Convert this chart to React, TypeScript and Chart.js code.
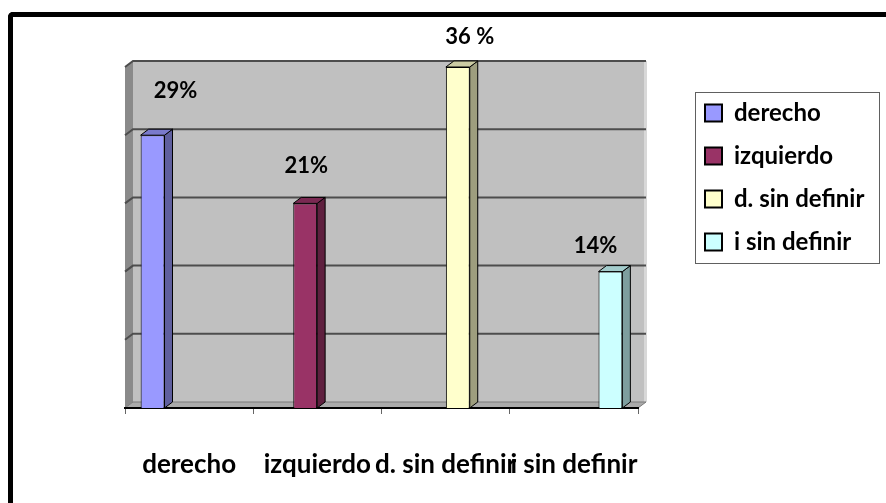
import React, { useEffect, useRef } from 'react';
import { Chart, registerables } from 'chart.js';

Chart.register(...registerables);

// ---- data ----
const categories = ['derecho', 'izquierdo', 'd. sin definir', 'i sin definir'];
const seriesNames = ['derecho', 'izquierdo', 'd. sin definir', 'i sin definir'];
const counts = [4, 3, 5, 2];
const percentLabels = ['29%', '21%', '36 %', '14%'];
const yMax = 5;
const yStep = 1;

// ---- style ----
const faceColors = ['#9999FF', '#993366', '#FFFFCC', '#CCFFFF'];
const FONT = 'Lato';
const DX = 8;
const DY = -6;
const labelShift = [
  { dx: 23, dy: -44 },
  { dx: 1, dy: -37 },
  { dx: 12, dy: -30 },
  { dx: -15, dy: -26 },
];
const CANVAS_W = 886;
const CANVAS_H = 503;
const PLOT_RIGHT = 638;
const LEGEND_PAD = 19;
const LEGEND_LEFT = 686;
const LEGEND_TOP = 82;
const LEGEND_FRAME = { x: 695, y: 92, w: 184, h: 171 };

function shade(hex: string, f: number): string {
  const n = parseInt(hex.slice(1), 16);
  const r = Math.round(((n >> 16) & 255) * f);
  const g = Math.round(((n >> 8) & 255) * f);
  const b = Math.round((n & 255) * f);
  return `rgb(${r},${g},${b})`;
}

function poly(ctx: CanvasRenderingContext2D, pts: number[][], fill: string, stroke?: string, lw = 1) {
  ctx.beginPath();
  ctx.moveTo(pts[0][0], pts[0][1]);
  for (let i = 1; i < pts.length; i++) ctx.lineTo(pts[i][0], pts[i][1]);
  ctx.closePath();
  ctx.fillStyle = fill;
  ctx.fill();
  if (stroke) {
    ctx.strokeStyle = stroke;
    ctx.lineWidth = lw;
    ctx.stroke();
  }
}

const scenePlugin = {
  id: 'scene',
  afterLayout(chart: any) {
    const lg = chart.legend;
    if (!lg) return;
    const h = lg.bottom - lg.top;
    lg.left = LEGEND_LEFT;
    lg.right = LEGEND_LEFT + lg.width;
    lg.top = LEGEND_TOP;
    lg.bottom = LEGEND_TOP + h;
  },
  beforeDraw(chart: any) {
    const { ctx, chartArea: a, scales } = chart;
    const ys = scales.y;
    ctx.save();
    // back wall
    ctx.fillStyle = '#C0C0C0';
    ctx.fillRect(a.left + DX, a.top + DY, a.right - a.left, a.bottom - a.top);
    ctx.fillStyle = '#D8D8D8';
    ctx.fillRect(a.right + DX - 2, a.top + DY, 3, a.bottom - a.top);
    // left wall
    poly(ctx, [[a.left, a.top], [a.left + DX, a.top + DY], [a.left + DX, a.bottom + DY], [a.left, a.bottom]], '#8A8A8A');
    // floor
    poly(ctx, [[a.left, a.bottom], [a.left + DX, a.bottom + DY], [a.right + DX, a.bottom + DY], [a.right, a.bottom]], '#AAAAAA', '#7A7A7A', 1);
    // gridlines on back wall
    ctx.strokeStyle = '#4D4D4D';
    ctx.lineWidth = 2;
    for (let v = yStep; v <= yMax; v += yStep) {
      const py = ys.getPixelForValue(v);
      ctx.beginPath();
      ctx.moveTo(a.left, py);
      ctx.lineTo(a.left + DX, py + DY);
      ctx.lineTo(a.right + DX, py + DY);
      ctx.stroke();
    }
    ctx.restore();
  },
  afterDatasetsDraw(chart: any) {
    const { ctx } = chart;
    ctx.save();
    chart.data.datasets.forEach((ds: any, i: number) => {
      const meta = chart.getDatasetMeta(i);
      meta.data.forEach((el: any, j: number) => {
        const v = ds.data[j];
        if (v === null || v === undefined) return;
        const { x, y, base, width } = el.getProps(['x', 'y', 'base', 'width'], true);
        const l = x - width / 2;
        const r = x + width / 2;
        const col = faceColors[i];
        poly(ctx, [[r, y], [r + DX, y + DY], [r + DX, base + DY], [r, base]], shade(col, 0.62), '#000', 1);
        poly(ctx, [[l, y], [l + DX, y + DY], [r + DX, y + DY], [r, y]], shade(col, 0.8), '#000', 1);
        ctx.fillStyle = '#000';
        ctx.font = `bold 22px ${FONT}`;
        ctx.textAlign = 'center';
        ctx.textBaseline = 'middle';
        ctx.fillText(percentLabels[i], x + labelShift[i].dx, y + labelShift[i].dy);
      });
    });
    ctx.restore();
  },
  afterDraw(chart: any) {
    const { ctx } = chart;
    ctx.save();
    ctx.strokeStyle = '#606060';
    ctx.lineWidth = 1;
    ctx.strokeRect(LEGEND_FRAME.x + 0.5, LEGEND_FRAME.y + 0.5, LEGEND_FRAME.w, LEGEND_FRAME.h);
    ctx.restore();
  },
};

export default function App() {
  const ref = useRef<HTMLCanvasElement | null>(null);
  useEffect(() => {
    if (!ref.current) return;
    Chart.defaults.font.family = FONT;
    const chart = new Chart(ref.current, {
      type: 'bar',
      data: {
        labels: categories,
        datasets: seriesNames.map((name, i) => ({
          label: name,
          data: categories.map((_, j) => (j === i ? counts[i] : null)),
          backgroundColor: faceColors[i],
          borderColor: '#000',
          borderWidth: 1,
          categoryPercentage: 0.76,
          barPercentage: 0.98,
        })),
      },
      options: {
        responsive: false,
        animation: false,
        layout: { padding: { left: 125, top: 67, right: 60, bottom: 0 } },
        plugins: {
          tooltip: { enabled: false },
          legend: {
            position: 'right',
            align: 'start',
            labels: {
              boxWidth: 17,
              boxHeight: 17,
              padding: LEGEND_PAD,
              color: '#000',
              font: { family: FONT, size: 24, weight: 'bold' },
              generateLabels(c: any) {
                const items = (Chart.defaults.plugins.legend.labels as any).generateLabels(c);
                items.forEach((it: any) => {
                  it.lineWidth = 2;
                  it.strokeStyle = '#000';
                });
                return items;
              },
            },
          },
        },
        scales: {
          x: {
            grid: { display: true, drawOnChartArea: false, drawTicks: true, tickLength: 6, color: '#666', lineWidth: 1 },
            border: { display: true, color: '#000', width: 2 },
            ticks: {
              autoSkip: false,
              maxRotation: 0,
              minRotation: 0,
              padding: 35,
              color: '#000',
              font: { family: FONT, size: 26, weight: 'bold' },
            },
            afterFit(scale: any) {
              scale.height = 95;
            },
          },
          y: { display: false, min: 0, max: yMax, ticks: { stepSize: yStep } },
        },
      } as any,
      plugins: [scenePlugin],
    });
    // make the plot end at PLOT_RIGHT with the legend's natural width
    const lw = (chart as any).legend.width;
    (chart.options as any).layout.padding.right = Math.max(0, CANVAS_W - PLOT_RIGHT - lw);
    chart.update();
    return () => chart.destroy();
  }, []);

  return (
    <div style={{ position: 'fixed', left: 0, top: 0, width: CANVAS_W, height: CANVAS_H, overflow: 'hidden', background: '#fff' }}>
      <canvas ref={ref} width={CANVAS_W} height={CANVAS_H} style={{ position: 'absolute', left: 0, top: 0, width: CANVAS_W, height: CANVAS_H }} />
      <div
        style={{
          position: 'absolute',
          left: 8,
          top: 12,
          width: 1000,
          height: 700,
          borderLeft: '5px solid #000',
          borderTop: '5px solid #000',
          borderTopLeftRadius: 5,
          pointerEvents: 'none',
        }}
      />
    </div>
  );
}
